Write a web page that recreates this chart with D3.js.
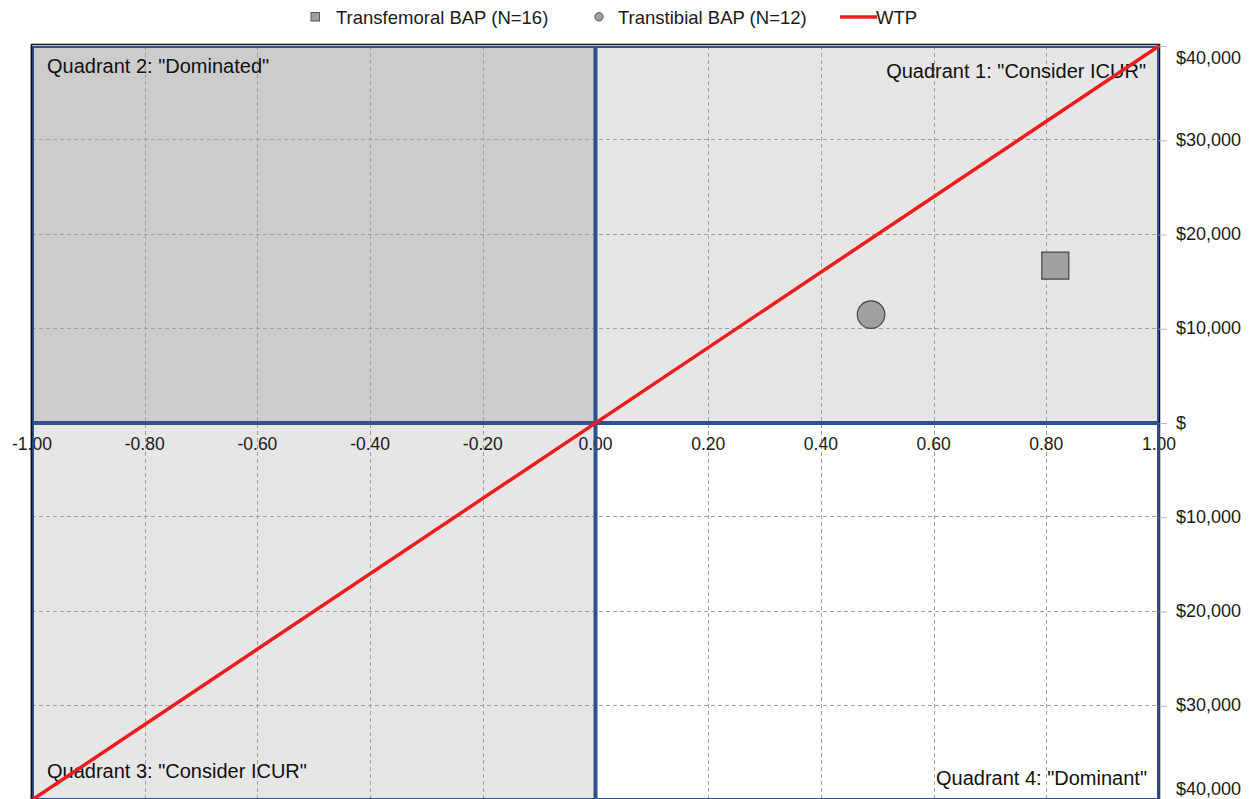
<!DOCTYPE html>
<html><head><meta charset="utf-8">
<script src="https://cdn.jsdelivr.net/npm/d3@7"></script>
<style>body{margin:0;background:#fff;font-family:"Liberation Sans",Arial,sans-serif}</style>
</head><body>
<svg id="c" width="1251" height="799"></svg>
<script>
const seriesNames = ["Transfemoral BAP (N=16)", "Transtibial BAP (N=12)"];
const seriesShapes = ["square", "circle"];
const qalyValues = [0.816, 0.489];
const costValues = [16700, 11500];
const wtpValue = 40000;
const xTicks = [-1, -0.8, -0.6, -0.4, -0.2, 0, 0.2, 0.4, 0.6, 0.8, 1];
const yTicks = [-40000, -30000, -20000, -10000, 0, 10000, 20000, 30000, 40000];
const quadrantLabels = ['Quadrant 1: "Consider ICUR"', 'Quadrant 2: "Dominated"', 'Quadrant 3: "Consider ICUR"', 'Quadrant 4: "Dominant"'];

const svg = d3.select("#c");
const L = 32, R = 1159, T = 46, B = 800;
const x = d3.scaleLinear().domain([-1, 1]).range([L, R]);
const y = d3.scaleLinear().domain([-40000, 40000]).range([B, T]);
const fnt = "'Liberation Sans', Arial, sans-serif";

// quadrant fills
const quads = [
  {x0: 0, x1: 1, y0: 0, y1: 40000, fill: "#e6e6e6"},
  {x0: -1, x1: 0, y0: 0, y1: 40000, fill: "#cccccc"},
  {x0: -1, x1: 0, y0: -40000, y1: 0, fill: "#e6e6e6"},
  {x0: 0, x1: 1, y0: -40000, y1: 0, fill: "#ffffff"}
];
svg.append("g").selectAll("rect").data(quads).join("rect")
  .attr("x", d => x(d.x0)).attr("y", d => y(d.y1))
  .attr("width", d => x(d.x1) - x(d.x0)).attr("height", d => y(d.y0) - y(d.y1))
  .attr("fill", d => d.fill);

// grid
const grid = svg.append("g").attr("stroke", "#a0a0a0").attr("stroke-width", 1).attr("stroke-dasharray", "4,3");
grid.selectAll("line.v").data(xTicks.filter(t => t !== -1 && t !== 0 && t !== 1)).join("line")
  .attr("x1", d => Math.round(x(d)) + 0.5).attr("x2", d => Math.round(x(d)) + 0.5).attr("y1", T).attr("y2", B);
grid.selectAll("line.h").data(yTicks.filter(t => t !== 0 && Math.abs(t) !== 40000)).join("line")
  .attr("y1", d => Math.round(y(d)) - 0.5).attr("y2", d => Math.round(y(d)) - 0.5).attr("x1", L).attr("x2", R);

// outer black frame
svg.append("rect").attr("x", L - 0.5).attr("y", T - 1.5).attr("width", R - L + 1).attr("height", B - T + 2)
  .attr("fill", "none").attr("stroke", "#111").attr("stroke-width", 1.5);

// quadrant borders
svg.append("g").selectAll("rect").data(quads).join("rect")
  .attr("x", d => x(d.x0) + 1).attr("y", d => y(d.y1) + 1)
  .attr("width", d => x(d.x1) - x(d.x0) - 2).attr("height", d => y(d.y0) - y(d.y1) - 2)
  .attr("fill", "none").attr("stroke", "#2f528f").attr("stroke-width", 2);

// x axis labels
svg.append("g").selectAll("text").data(xTicks).join("text")
  .attr("x", d => x(d)).attr("y", y(0) + 27).attr("text-anchor", "middle")
  .attr("font-family", fnt).attr("font-size", 17.5).attr("fill", "#1a1a1a")
  .text(d => d3.format(".2f")(d).replace("−", "-"));

// y axis on right
const yAxis = d3.axisRight(y).tickValues(yTicks).tickSize(8).tickPadding(9)
  .tickFormat(d => d === 0 ? "$" : "$" + d3.format(",")(Math.abs(d)));
const ya = svg.append("g").attr("transform", `translate(${R},0)`).call(yAxis);
ya.select(".domain").remove();
ya.selectAll(".tick line").attr("stroke", "#bbb");
ya.selectAll(".tick text").attr("font-family", fnt).attr("font-size", 18).attr("fill", "#1a1a1a")
  .attr("dy", d => d === 40000 ? "0.95em" : (d === -40000 ? "-0.33em" : "0.28em"));

// vertical lines at x=0 drawn over labels
svg.append("line").attr("x1", x(0)).attr("x2", x(0)).attr("y1", T).attr("y2", B)
  .attr("stroke", "#2f528f").attr("stroke-width", 2.5);
svg.append("line").attr("x1", x(1) - 0.5).attr("x2", x(1) - 0.5).attr("y1", y(0)).attr("y2", B)
  .attr("stroke", "#2f528f").attr("stroke-width", 2.5);
svg.append("line").attr("x1", x(-1) + 1).attr("x2", x(-1) + 1).attr("y1", y(0)).attr("y2", B)
  .attr("stroke", "#2f528f").attr("stroke-width", 2);
svg.append("line").attr("x1", x(-1) - 0.5).attr("x2", x(-1) - 0.5).attr("y1", T).attr("y2", B)
  .attr("stroke", "#111").attr("stroke-width", 1.5);

// quadrant labels
const ql = svg.append("g").attr("font-family", fnt).attr("font-size", 20).attr("fill", "#111");
ql.append("text").attr("x", 1146).attr("y", 78).attr("text-anchor", "end").text(quadrantLabels[0]);
ql.append("text").attr("x", 47).attr("y", 73).text(quadrantLabels[1]);
ql.append("text").attr("x", 47).attr("y", 778).text(quadrantLabels[2]);
ql.append("text").attr("x", 1147).attr("y", 785).attr("text-anchor", "end").text(quadrantLabels[3]);

// WTP line
svg.append("line").attr("x1", x(-1)).attr("y1", y(-wtpValue)).attr("x2", x(1)).attr("y2", y(wtpValue))
  .attr("stroke", "#ee1c1c").attr("stroke-width", 3.5);

// points
const pts = seriesNames.map((n, i) => ({name: n, shape: seriesShapes[i], qx: qalyValues[i], cy: costValues[i]}));
svg.append("g").selectAll("path").data(pts).join("path")
  .attr("transform", d => `translate(${x(d.qx)},${y(d.cy)})`)
  .attr("d", d => d.shape === "square" ? "M-13.5,-13.5H13.5V13.5H-13.5Z" : d3.symbol(d3.symbolCircle, Math.PI * 13.8 * 13.8)())
  .attr("fill", "#a0a0a0").attr("stroke", "#444").attr("stroke-width", 1.2);

// legend
const lg = svg.append("g").attr("font-family", fnt).attr("font-size", 18.5).attr("fill", "#1a1a1a");
lg.append("rect").attr("x", 311).attr("y", 12.5).attr("width", 8.5).attr("height", 8.5).attr("fill", "#a0a0a0").attr("stroke", "#555");
lg.append("text").attr("x", 336).attr("y", 24).text(seriesNames[0]);
lg.append("circle").attr("cx", 599).attr("cy", 16.8).attr("r", 4.2).attr("fill", "#a0a0a0").attr("stroke", "#555");
lg.append("text").attr("x", 618).attr("y", 24).text(seriesNames[1]);
lg.append("line").attr("x1", 840).attr("x2", 877).attr("y1", 17).attr("y2", 17).attr("stroke", "#ee1c1c").attr("stroke-width", 3.5);
lg.append("text").attr("x", 876).attr("y", 24).text("WTP");
</script>
</body></html>
